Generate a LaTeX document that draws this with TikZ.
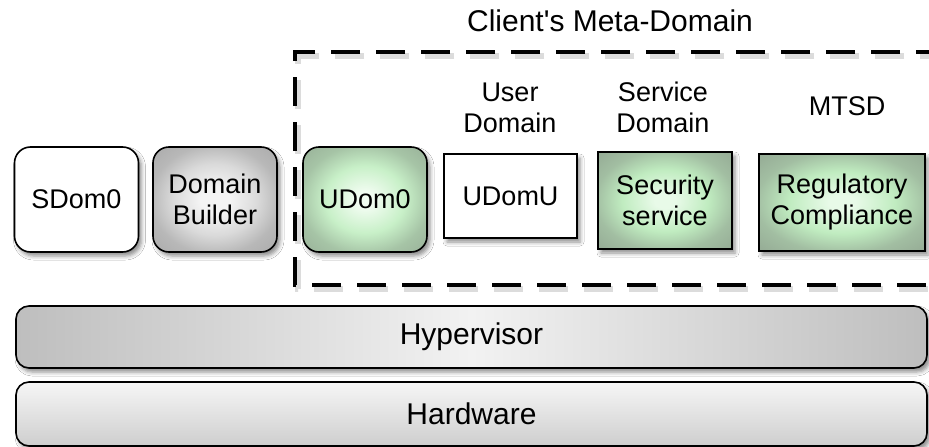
\documentclass[tikz,border=0pt]{standalone}
\usepackage{fontspec}
\newfontfamily\labelfont{Liberation Sans}
\usetikzlibrary{shadows.blur}

% colours of the soft glows inside the boxes
\definecolor{greyA}{RGB}{244,244,244}
\definecolor{greyB}{RGB}{218,218,218}
\definecolor{greyC}{RGB}{184,184,184}
\definecolor{greyD}{RGB}{170,170,170}
\definecolor{grnA}{RGB}{240,252,240}
\definecolor{grnB}{RGB}{200,240,200}
\definecolor{grnC}{RGB}{166,196,166}
\definecolor{grnD}{RGB}{152,176,152}
\definecolor{sqA}{RGB}{232,250,232}
\definecolor{sqB}{RGB}{192,236,192}
\definecolor{sqC}{RGB}{162,190,162}
\definecolor{sqD}{RGB}{148,170,148}
\definecolor{layerside}{RGB}{190,190,190}
\definecolor{layermid}{RGB}{242,242,242}
\definecolor{hwtop}{RGB}{246,246,246}
\definecolor{hwbottom}{RGB}{206,206,206}

% radial glows: 25bp is the edge of the filled box, 35bp its corners
\pgfdeclareradialshading{greyglow}{\pgfpoint{0bp}{0bp}}{%
  color(0bp)=(greyA); color(6bp)=(greyA); color(17bp)=(greyB);
  color(26bp)=(greyC); color(36bp)=(greyD); color(50bp)=(greyD)}
\pgfdeclareradialshading{greenglow}{\pgfpoint{0bp}{0bp}}{%
  color(0bp)=(grnA); color(4bp)=(grnA); color(16bp)=(grnB);
  color(26bp)=(grnC); color(36bp)=(grnD); color(50bp)=(grnD)}
\pgfdeclareradialshading{squareglow}{\pgfpoint{0bp}{0bp}}{%
  color(0bp)=(sqA); color(4bp)=(sqA); color(16bp)=(sqB);
  color(26bp)=(sqC); color(36bp)=(sqD); color(50bp)=(sqD)}

\tikzset{
  dropshadow/.style={blur shadow={shadow xshift=3pt, shadow yshift=-4pt,
      shadow blur radius=4pt, shadow opacity=45}},
  domainbox/.style={draw=black, line width=1.6pt, dropshadow,
      minimum height=105pt, minimum width=124pt, inner sep=2pt,
      align=center, font=\labelfont\fontsize{27}{31}\selectfont},
  roundbox/.style={domainbox, rounded corners=16pt},
  layerbox/.style={draw=black, line width=1.6pt, dropshadow, rounded corners=13pt,
      minimum width=911pt, font=\labelfont\fontsize{30}{34}\selectfont},
  caption/.style={align=center, font=\labelfont\fontsize{27}{31}\selectfont},
  metaline/.style={line width=3.5pt, dash pattern=on 29pt off 16pt},
}

\begin{document}
\begin{tikzpicture}[x=1pt, y=-1pt]
  \useasboundingbox (0,0) rectangle (929,447);
  \clip (0,0) rectangle (929,447);
  \fill[white] (0,0) rectangle (929,447);

  % client meta-domain frame (open on the right) with a soft shadow under the dashes
  \draw[metaline, gray!45, opacity=0.6, line width=6pt]
       (949,56) -- (298,56) -- (298,289) -- (949,289);
  \draw[metaline, black] (945,52) -- (295,52) -- (295,285) -- (945,285);
  \node[caption, font=\labelfont\fontsize{30}{34}\selectfont] (meta) at (610,21) {Client's Meta-Domain};

  % domains
  \node[roundbox, fill=white] (sdom) at (76.5,199.5) {SDom0};
  \node[roundbox, shading=greyglow] (builder) at (215,199.5) {Domain\\Builder};
  \node[roundbox, shading=greenglow] (udom0) at (365,199.5) {UDom0};
  \node[domainbox, fill=white, minimum width=133pt, minimum height=84pt] (udomu) at (510.5,196) {UDomU};
  \node[domainbox, shading=squareglow, minimum width=134pt, minimum height=97pt] (sec) at (665,200.5) {Security\\service};
  \node[domainbox, shading=squareglow, minimum width=166pt, minimum height=97pt] (reg) at (842,202.5) {Regulatory\\Compliance};

  % captions above the client domains
  \node[caption] (userlbl) at (510,108) {User\\Domain};
  \node[caption] (servlbl) at (663,107) {Service\\Domain};
  \node[caption] (mtsdlbl) at (847,106) {MTSD};

  % layers
  \node[layerbox, minimum height=62pt, left color=layerside, right color=layerside, middle color=layermid] (hyp) at (471.5,337) {Hypervisor};
  \node[layerbox, minimum height=64pt, top color=hwtop, bottom color=hwbottom] (hw) at (471.5,414) {Hardware};
\end{tikzpicture}
\end{document}
